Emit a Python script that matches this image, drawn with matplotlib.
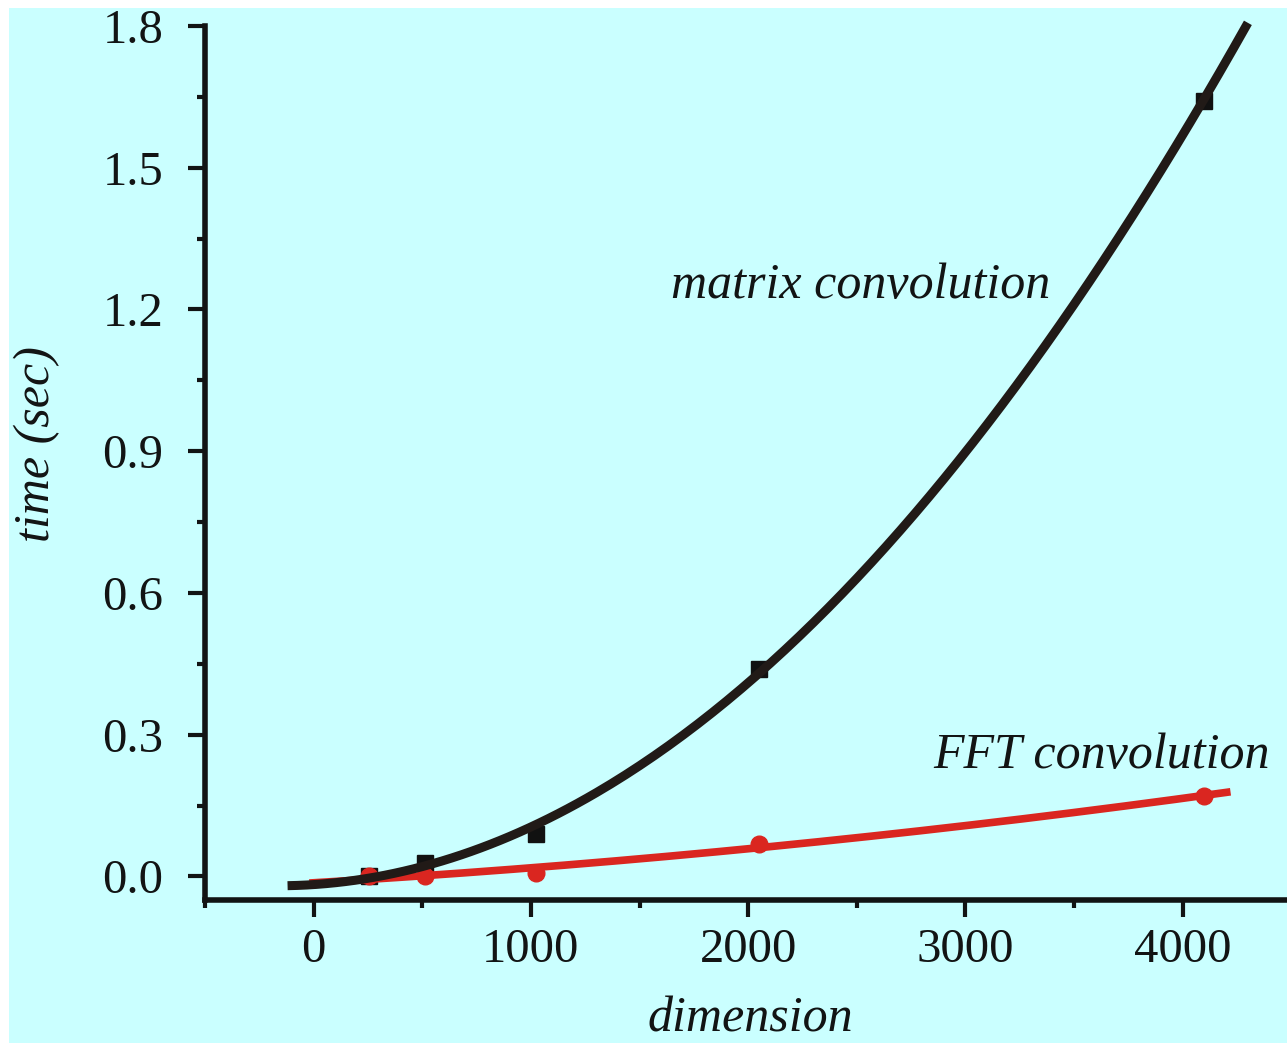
import numpy as np
import matplotlib
matplotlib.use('Agg')
import matplotlib.pyplot as plt
from matplotlib.patches import Rectangle
from matplotlib.ticker import MultipleLocator

plt.rcParams['font.family'] = ['Liberation Serif', 'DejaVu Serif']

# measured run times
dims = [256, 512, 1024, 2048, 4096]
t_matrix = [0.0, 0.029, 0.090, 0.44, 1.642]
t_fft = [0.0, 0.0, 0.008, 0.068, 0.17]

x_ticks = [0, 1000, 2000, 3000, 4000]
y_ticks = [0.0, 0.3, 0.6, 0.9, 1.2, 1.5, 1.8]

bg = '#caffff'
ink = '#121414'
c_matrix = '#211a17'
c_fft = '#da2620'

fig = plt.figure(figsize=(12.87, 10.43), dpi=100, facecolor='white')
fig.patches.append(Rectangle((9 / 1287, 0), 1, 1 - 8 / 1043, transform=fig.transFigure,
                             facecolor=bg, edgecolor='none', zorder=-10))
ax = fig.add_axes([205 / 1287, 143 / 1043, 1 - 205 / 1287, (900 - 26) / 1043])
ax.set_facecolor(bg)

# fitted curves through the measurements
fit_m = np.polyfit(dims, t_matrix, 2)
fit_f = np.polyfit(dims, t_fft, 2)
xm = np.linspace(-120, 4300, 200)
xf = np.linspace(-20, 4220, 200)

ax.plot(dims, t_matrix, 's', color='#111111', markersize=12, zorder=2)
ax.plot(dims, t_fft, 'o', color=c_fft, markersize=12, zorder=3)
ax.plot(xf, np.polyval(fit_f, xf), color=c_fft, lw=5.5, zorder=4, clip_on=False,
        solid_capstyle='butt')
ax.plot(xm, np.polyval(fit_m, xm), color=c_matrix, lw=6.5, zorder=5, clip_on=False,
        solid_capstyle='butt')

ax.set_xlim(-500, 4480)
ax.set_ylim(-0.05, 1.8)
ax.set_xticks(x_ticks)
ax.set_yticks(y_ticks)
ax.set_yticklabels(['%.1f' % v for v in y_ticks])
ax.xaxis.set_minor_locator(MultipleLocator(500))
ax.yaxis.set_minor_locator(MultipleLocator(0.15))

for s in ['top', 'right']:
    ax.spines[s].set_visible(False)
for s in ['left', 'bottom']:
    ax.spines[s].set_linewidth(4)
    ax.spines[s].set_color(ink)
ax.tick_params(which='major', length=12, width=3, color=ink, labelsize=35, labelcolor=ink)
ax.tick_params(which='minor', length=6, width=3, color=ink)
ax.tick_params(axis='y', which='major', pad=18)
ax.tick_params(axis='x', which='major', pad=8)

ax.text(-0.155, 0.522, 'time (sec)', transform=ax.transAxes, rotation=90,
        ha='center', va='center', fontsize=36, style='italic', color=ink)
fig.text(750 / 1287, 12 / 1043, 'dimension', ha='center', va='baseline',
         fontsize=36, style='italic', color=ink)
ax.text(1645, 1.224, 'matrix convolution', ha='left', va='baseline',
        fontsize=36, style='italic', color=ink)
ax.text(2850, 0.229, 'FFT convolution', ha='left', va='baseline',
        fontsize=36, style='italic', color=ink)

fig.savefig('out.png', dpi=100, facecolor='white')
